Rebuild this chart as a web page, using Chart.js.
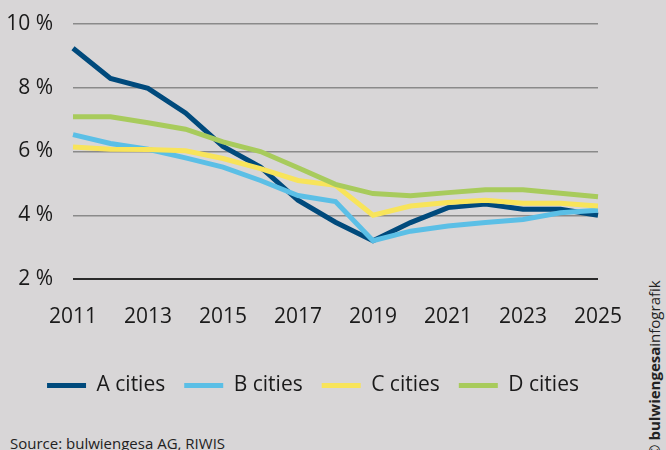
<!DOCTYPE html>
<html>
<head>
<meta charset="utf-8">
<script src="https://cdn.jsdelivr.net/npm/chart.js@4"></script>
<style>
  html, body { margin: 0; padding: 0; background: #d8d6d7; width: 666px; height: 450px; overflow: hidden; }
  #wrap { position: absolute; left: 0; top: 0; width: 626px; height: 406px; }
  #source { position: absolute; left: 10px; top: 436px; font: 15px "Open Sans", sans-serif; line-height: 15px; color: #222; white-space: nowrap; }
  #credit { position: absolute; left: 645px; top: 457px; font: 15px "Open Sans", sans-serif; line-height: 19px; color: #222; white-space: nowrap; transform: rotate(-90deg); transform-origin: left top; }
</style>
</head>
<body>
<div id="wrap"><canvas id="c"></canvas></div>
<div id="source">Source: bulwiengesa AG, RIWIS</div>
<div id="credit">© <b>bulwiengesa</b>infografik</div>
<script>
const years = ["2011","2012","2013","2014","2015","2016","2017","2018","2019","2020","2021","2022","2023","2024","2025"];
const aCities = [9.24, 8.29, 7.98, 7.21, 6.16, 5.51, 4.47, 3.78, 3.2, 3.77, 4.24, 4.35, 4.19, 4.19, 4.0];
const bCities = [6.53, 6.25, 6.07, 5.8, 5.51, 5.09, 4.62, 4.43, 3.2, 3.5, 3.66, 3.77, 3.87, 4.08, 4.16];
const cCities = [6.14, 6.07, 6.06, 6.02, 5.78, 5.46, 5.09, 4.94, 4.0, 4.29, 4.4, 4.47, 4.38, 4.38, 4.29];
const dCities = [7.09, 7.09, 6.9, 6.7, 6.3, 6.0, 5.49, 4.97, 4.68, 4.61, 4.71, 4.8, 4.8, 4.69, 4.58];
const seriesNames = ["A cities", "B cities", "C cities", "D cities"];
const yTicks = [2, 4, 6, 8, 10];

const colors = ["#004a7c", "#5bbfe6", "#f8e45a", "#a8cb5c"];
const FONT = '"Open Sans", sans-serif';

const mk = (i, data, order) => ({
  label: seriesNames[i], data,
  borderColor: colors[i], backgroundColor: colors[i],
  borderWidth: 5, pointRadius: 0, pointHoverRadius: 0, tension: 0,
  borderJoinStyle: 'miter', fill: false, order
});

const legendCenter = {
  id: 'legendCenter',
  afterLayout(chart) {
    if (chart.legend) { chart.legend.left = 0; chart.legend.right = chart.width; chart.legend.width = chart.width; }
  }
};

new Chart(document.getElementById('c'), {
  type: 'line',
  data: {
    labels: years,
    datasets: [mk(0, aCities, 4), mk(1, bCities, 3), mk(2, cCities, 2), mk(3, dCities, 1)]
  },
  plugins: [legendCenter],
  options: {
    responsive: true, maintainAspectRatio: false, animation: false,
    layout: { padding: { top: 24, right: 28, left: 0, bottom: 0 } },
    plugins: {
      tooltip: { enabled: false },
      legend: {
        position: 'bottom',
        labels: {
          boxWidth: 39, boxHeight: 5, padding: 19, color: '#1a1a1a',
          font: { family: FONT, size: 21 },
          sort: (a, b) => a.datasetIndex - b.datasetIndex,
          generateLabels: (chart) => Chart.defaults.plugins.legend.labels.generateLabels(chart).map(l => Object.assign(l, { lineWidth: 0 }))
        }
      }
    },
    scales: {
      x: {
        type: 'category',
        grid: { display: false, drawTicks: false },
        border: { display: false },
        afterFit: (s) => { s.height = 77; s.paddingLeft = 0; s.paddingRight = 0; },
        ticks: {
          autoSkip: false, maxRotation: 0, padding: 25, color: '#1a1a1a',
          font: { family: FONT, size: 21 },
          callback: function (v, i) { return i % 2 === 0 ? years[i] : ''; }
        }
      },
      y: {
        min: 2, max: 10,
        afterFit: (s) => { s.width = 73; s.paddingTop = 0; s.paddingBottom = 0; },
        afterBuildTicks: (s) => { s.ticks = yTicks.map(v => ({ value: v })); },
        grid: {
          drawTicks: false,
          color: (c) => c.tick && c.tick.value === 2 ? '#2a2a2a' : '#8a8a8a',
          lineWidth: (c) => c.tick && c.tick.value === 2 ? 2 : 1.5
        },
        border: { display: false },
        ticks: {
          padding: 20, color: '#1a1a1a',
          font: { family: FONT, size: 21 },
          callback: (v) => v + ' %'
        }
      }
    }
  }
});
</script>
</body>
</html>
